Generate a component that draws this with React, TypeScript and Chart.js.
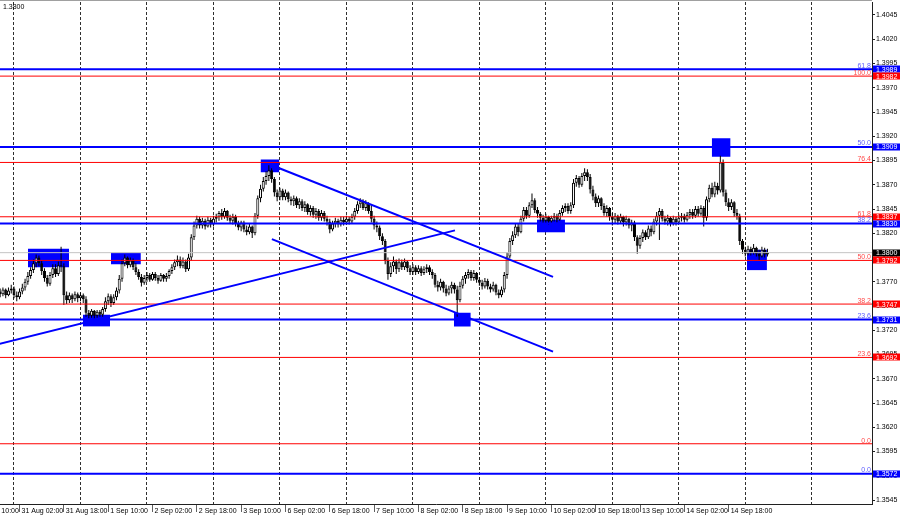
import React, { useEffect, useRef } from "react";
import { Chart, registerables } from "chart.js";

Chart.register(...registerables);

const FONT = "'Liberation Sans', Arial, sans-serif";

// ---------- candle data (H1 bars, bar index 0 = 31 Aug 00:00) ----------
const firstBar = -5;
const firstOpen = 1.376;
const closes = [
  1.3757, 1.3762, 1.3756, 1.3761, 1.3763,
  1.3756, 1.3754, 1.3760, 1.3764, 1.3770, 1.3776, 1.3782, 1.3789, 1.3795, 1.3789,
  1.3781, 1.3774, 1.3768, 1.3777, 1.3784, 1.3778, 1.3787, 1.3786, 1.3756, 1.3751,
  1.3756, 1.3752, 1.3757, 1.3753, 1.3756, 1.3752, 1.3738, 1.3735, 1.3740, 1.3735,
  1.3739, 1.3736, 1.3742, 1.3750, 1.3755, 1.3748, 1.3754, 1.3761, 1.3773, 1.3789,
  1.3795, 1.3787, 1.3792, 1.3785, 1.3780, 1.3775, 1.3769, 1.3774, 1.3777, 1.3772,
  1.3778, 1.3774, 1.3771, 1.3777, 1.3773, 1.3776, 1.3781, 1.3785, 1.3790, 1.3793,
  1.3786, 1.3791, 1.3783, 1.3795, 1.3816, 1.3828, 1.3835, 1.3828, 1.3833, 1.3827,
  1.3834, 1.3829, 1.3835, 1.3837, 1.3841, 1.3837, 1.3843, 1.3836, 1.3833, 1.3837,
  1.3830, 1.3826, 1.3831, 1.3824, 1.3821, 1.3827, 1.3820, 1.3838, 1.3856, 1.3866,
  1.3874, 1.3879, 1.3885, 1.3876, 1.3862, 1.3857, 1.3864, 1.3857, 1.3862, 1.3855,
  1.3853, 1.3856, 1.3849, 1.3853, 1.3846, 1.3850, 1.3842, 1.3846, 1.3839, 1.3843,
  1.3836, 1.3841, 1.3835, 1.3832, 1.3824, 1.3830, 1.3833, 1.3829, 1.3834, 1.3831,
  1.3835, 1.3832, 1.3837, 1.3843, 1.3850, 1.3853, 1.3846, 1.3851, 1.3843, 1.3835,
  1.3828, 1.3826, 1.3817, 1.3812, 1.3792, 1.3778, 1.3786, 1.3791, 1.3783, 1.3790,
  1.3785, 1.3791, 1.3784, 1.3780, 1.3785, 1.3780, 1.3784, 1.3779, 1.3783, 1.3785,
  1.3780, 1.3777, 1.3767, 1.3764, 1.3770, 1.3763, 1.3758, 1.3763, 1.3767, 1.3762,
  1.3751, 1.3766, 1.3773, 1.3777, 1.3780, 1.3774, 1.3779, 1.3772, 1.3769, 1.3765,
  1.3771, 1.3765, 1.3762, 1.3767, 1.3759, 1.3756, 1.3762, 1.3777, 1.3796, 1.3812,
  1.3818, 1.3827, 1.3821, 1.3835, 1.3844, 1.3838, 1.3849, 1.3854, 1.3844, 1.3840,
  1.3836, 1.3833, 1.3837, 1.3832, 1.3836, 1.3838, 1.3834, 1.3841, 1.3846, 1.3848,
  1.3843, 1.3849, 1.3872, 1.3877, 1.3870, 1.3879, 1.3883, 1.3878, 1.3865, 1.3858,
  1.3851, 1.3856, 1.3848, 1.3841, 1.3846, 1.3837, 1.3834, 1.3838, 1.3832, 1.3837,
  1.3831, 1.3835, 1.3828, 1.3831, 1.3816, 1.3807, 1.3815, 1.3821, 1.3816, 1.3825,
  1.3821, 1.3832, 1.3838, 1.3843, 1.3835, 1.3832, 1.3836, 1.3830, 1.3835, 1.3831,
  1.3836, 1.3838, 1.3834, 1.3839, 1.3842, 1.3838, 1.3845, 1.3840, 1.3846, 1.3836,
  1.3855, 1.3867, 1.3860, 1.3869, 1.3864, 1.3893, 1.3862, 1.3852, 1.3847, 1.3852,
  1.3841, 1.3838, 1.3812, 1.3803, 1.3799, 1.3804, 1.3800, 1.3805, 1.3799, 1.3796,
  1.3803, 1.3798, 1.3800,
];
const highs = [
  1.3763, 1.3764, 1.3763, 1.3764, 1.3767,
  1.3765, 1.3760, 1.3763, 1.3768, 1.3773, 1.3780, 1.3785, 1.3793, 1.3798, 1.3797,
  1.3792, 1.3784, 1.3777, 1.3780, 1.3788, 1.3788, 1.3791, 1.3806, 1.3789, 1.3760,
  1.3759, 1.3758, 1.3760, 1.3759, 1.3759, 1.3758, 1.3755, 1.3741, 1.3742, 1.3741,
  1.3741, 1.3741, 1.3744, 1.3754, 1.3758, 1.3757, 1.3757, 1.3764, 1.3777, 1.3793,
  1.3798, 1.3796, 1.3795, 1.3794, 1.3789, 1.3783, 1.3778, 1.3777, 1.3780, 1.3779,
  1.3780, 1.3780, 1.3777, 1.3779, 1.3778, 1.3779, 1.3783, 1.3788, 1.3793, 1.3797,
  1.3796, 1.3795, 1.3793, 1.3799, 1.3819, 1.3832, 1.3838, 1.3837, 1.3836, 1.3835,
  1.3837, 1.3836, 1.3838, 1.3840, 1.3843, 1.3845, 1.3846, 1.3844, 1.3839, 1.3840,
  1.3839, 1.3833, 1.3833, 1.3833, 1.3828, 1.3830, 1.3828, 1.3841, 1.3859, 1.3870,
  1.3878, 1.3884, 1.3890, 1.3887, 1.3878, 1.3865, 1.3867, 1.3866, 1.3865, 1.3863,
  1.3858, 1.3859, 1.3858, 1.3856, 1.3855, 1.3853, 1.3851, 1.3849, 1.3848, 1.3846,
  1.3845, 1.3844, 1.3843, 1.3838, 1.3835, 1.3833, 1.3836, 1.3835, 1.3837, 1.3837,
  1.3838, 1.3837, 1.3840, 1.3846, 1.3853, 1.3856, 1.3855, 1.3854, 1.3852, 1.3850,
  1.3838, 1.3832, 1.3828, 1.3820, 1.3814, 1.3795, 1.3790, 1.3796, 1.3793, 1.3794,
  1.3793, 1.3794, 1.3792, 1.3787, 1.3788, 1.3787, 1.3787, 1.3786, 1.3786, 1.3788,
  1.3787, 1.3783, 1.3779, 1.3771, 1.3773, 1.3771, 1.3767, 1.3766, 1.3770, 1.3769,
  1.3766, 1.3770, 1.3776, 1.3780, 1.3783, 1.3782, 1.3782, 1.3780, 1.3775, 1.3772,
  1.3774, 1.3773, 1.3768, 1.3770, 1.3768, 1.3762, 1.3765, 1.3780, 1.3800, 1.3815,
  1.3822, 1.3830, 1.3830, 1.3838, 1.3847, 1.3847, 1.3852, 1.3861, 1.3856, 1.3847,
  1.3842, 1.3839, 1.3840, 1.3838, 1.3838, 1.3841, 1.3840, 1.3844, 1.3849, 1.3851,
  1.3851, 1.3852, 1.3876, 1.3880, 1.3879, 1.3882, 1.3887, 1.3886, 1.3881, 1.3869,
  1.3861, 1.3859, 1.3857, 1.3851, 1.3849, 1.3847, 1.3841, 1.3841, 1.3839, 1.3840,
  1.3838, 1.3838, 1.3836, 1.3834, 1.3833, 1.3818, 1.3818, 1.3824, 1.3823, 1.3828,
  1.3828, 1.3835, 1.3842, 1.3846, 1.3845, 1.3838, 1.3839, 1.3837, 1.3838, 1.3837,
  1.3839, 1.3841, 1.3840, 1.3842, 1.3845, 1.3845, 1.3848, 1.3848, 1.3849, 1.3848,
  1.3858, 1.3870, 1.3872, 1.3873, 1.3872, 1.3900, 1.3896, 1.3865, 1.3856, 1.3855,
  1.3853, 1.3845, 1.3840, 1.3814, 1.3806, 1.3807, 1.3806, 1.3809, 1.3806, 1.3803,
  1.3806, 1.3805, 1.3804,
];
const lows = [
  1.3754, 1.3755, 1.3753, 1.3755, 1.3758,
  1.3753, 1.3750, 1.3752, 1.3757, 1.3761, 1.3767, 1.3773, 1.3779, 1.3785, 1.3786,
  1.3777, 1.3770, 1.3765, 1.3766, 1.3774, 1.3775, 1.3776, 1.3780, 1.3746, 1.3747,
  1.3748, 1.3748, 1.3750, 1.3749, 1.3750, 1.3748, 1.3734, 1.3732, 1.3733, 1.3732,
  1.3733, 1.3734, 1.3734, 1.3739, 1.3746, 1.3744, 1.3746, 1.3751, 1.3758, 1.3770,
  1.3786, 1.3784, 1.3785, 1.3782, 1.3777, 1.3772, 1.3765, 1.3767, 1.3770, 1.3770,
  1.3771, 1.3771, 1.3768, 1.3770, 1.3770, 1.3770, 1.3773, 1.3778, 1.3782, 1.3786,
  1.3784, 1.3784, 1.3780, 1.3781, 1.3792, 1.3813, 1.3825, 1.3825, 1.3825, 1.3824,
  1.3826, 1.3826, 1.3827, 1.3831, 1.3833, 1.3834, 1.3835, 1.3833, 1.3830, 1.3829,
  1.3827, 1.3823, 1.3822, 1.3821, 1.3818, 1.3819, 1.3815, 1.3818, 1.3835, 1.3852,
  1.3863, 1.3870, 1.3874, 1.3872, 1.3858, 1.3853, 1.3854, 1.3854, 1.3854, 1.3852,
  1.3849, 1.3848, 1.3846, 1.3845, 1.3843, 1.3842, 1.3839, 1.3838, 1.3836, 1.3835,
  1.3833, 1.3833, 1.3832, 1.3828, 1.3820, 1.3822, 1.3826, 1.3826, 1.3827, 1.3828,
  1.3829, 1.3829, 1.3830, 1.3834, 1.3840, 1.3846, 1.3844, 1.3843, 1.3840, 1.3831,
  1.3824, 1.3821, 1.3813, 1.3808, 1.3788, 1.3772, 1.3775, 1.3780, 1.3778, 1.3780,
  1.3782, 1.3782, 1.3780, 1.3777, 1.3777, 1.3777, 1.3778, 1.3776, 1.3777, 1.3779,
  1.3777, 1.3773, 1.3764, 1.3760, 1.3761, 1.3759, 1.3755, 1.3756, 1.3758, 1.3758,
  1.3734, 1.3749, 1.3763, 1.3768, 1.3773, 1.3771, 1.3771, 1.3769, 1.3766, 1.3762,
  1.3763, 1.3762, 1.3759, 1.3760, 1.3756, 1.3753, 1.3754, 1.3759, 1.3773, 1.3794,
  1.3808, 1.3815, 1.3817, 1.3820, 1.3832, 1.3835, 1.3836, 1.3846, 1.3841, 1.3836,
  1.3832, 1.3830, 1.3830, 1.3829, 1.3830, 1.3832, 1.3831, 1.3833, 1.3838, 1.3842,
  1.3840, 1.3840, 1.3846, 1.3868, 1.3867, 1.3868, 1.3874, 1.3874, 1.3861, 1.3854,
  1.3847, 1.3847, 1.3844, 1.3838, 1.3837, 1.3833, 1.3828, 1.3830, 1.3829, 1.3830,
  1.3827, 1.3828, 1.3825, 1.3822, 1.3812, 1.3799, 1.3804, 1.3811, 1.3813, 1.3814,
  1.3817, 1.3819, 1.3828, 1.3813, 1.3832, 1.3829, 1.3828, 1.3827, 1.3828, 1.3828,
  1.3830, 1.3832, 1.3831, 1.3832, 1.3835, 1.3835, 1.3836, 1.3837, 1.3838, 1.3827,
  1.3833, 1.3852, 1.3857, 1.3857, 1.3860, 1.3862, 1.3858, 1.3848, 1.3843, 1.3844,
  1.3837, 1.3834, 1.3808, 1.3799, 1.3796, 1.3797, 1.3797, 1.3798, 1.3796, 1.3792,
  1.3795, 1.3795, 1.3796,
];

// ---------- axes ----------
const dayStartBars = [0, 24, 48, 72, 96, 120, 144, 168, 192, 216, 240, 264, 288];
const timeLabelBars = [-14, 2, 18, 34, 50, 66, 82, 98, 114, 130, 146, 162, 178, 194, 210, 226, 242, 258];
const timeLabels = [
  "30 Aug 10:00", "31 Aug 02:00", "31 Aug 18:00", "1 Sep 10:00", "2 Sep 02:00", "2 Sep 18:00",
  "3 Sep 10:00", "6 Sep 02:00", "6 Sep 18:00", "7 Sep 10:00", "8 Sep 02:00", "8 Sep 18:00",
  "9 Sep 10:00", "10 Sep 02:00", "10 Sep 18:00", "13 Sep 10:00", "14 Sep 02:00", "14 Sep 18:00",
];
const priceTicks = [
  1.3545, 1.357, 1.3595, 1.362, 1.3645, 1.367, 1.3695, 1.372, 1.3745, 1.377, 1.3795,
  1.382, 1.3845, 1.387, 1.3895, 1.392, 1.3945, 1.397, 1.3995, 1.402, 1.4045,
];

// ---------- levels ----------
const redFibValues = [1.3603, 1.3692, 1.3747, 1.3792, 1.3837, 1.3893, 1.3982];
const redFibLabels = ["0.0", "23.6", "38.2", "50.0", "61.8", "76.4", "100.0"];
const blueFibValues = [1.3572, 1.3731, 1.383, 1.3909, 1.3989];
const blueFibLabels = ["0.0", "23.6", "38.2", "50.0", "61.8"];
const currentPrice = 1.38;
const topLeftText = "1.3800";

const tagValues = [1.3989, 1.3982, 1.3909, 1.3837, 1.383, 1.38, 1.3792, 1.3747, 1.3731, 1.3692, 1.3572];
const tagKinds = ["blue", "red", "blue", "red", "blue", "price", "red", "red", "blue", "red", "blue"];

// ---------- rectangles ----------
const boxStartBars = [5.05, 24.9, 35.0, 89.0, 158.8, 188.8, 251.9, 264.6];
const boxEndBars = [19.9, 34.7, 45.8, 95.8, 164.9, 198.9, 258.7, 271.8];
const boxTops = [1.3804, 1.3736, 1.38, 1.3896, 1.3738, 1.3834, 1.3918, 1.3803];
const boxBottoms = [1.3785, 1.3724, 1.3788, 1.3883, 1.3724, 1.3821, 1.3899, 1.3782];

// ---------- trend lines ----------
const supportLineBars = [-5.3, 159.2];
const supportLinePrices = [1.3706, 1.3823];
const channelTopBars = [95.8, 194.6];
const channelTopPrices = [1.3887, 1.3775];
const channelBottomBars = [93.1, 194.6];
const channelBottomPrices = [1.3814, 1.3698];

const X_MIN = -5.054;
const X_MAX = 309.75;
const Y_MIN = 1.35409;
const Y_MAX = 1.40584;

const BLUE = "#0000ff";
const RED = "#ff0000";

const overlayPlugin = {
  id: "overlay",
  afterDatasetsDraw(chart: any) {
    const { ctx, chartArea } = chart;
    const y = chart.scales.y;
    ctx.save();
    ctx.font = `7px ${FONT}`;
    ctx.textAlign = "right";
    ctx.textBaseline = "alphabetic";
    redFibValues.forEach((v, i) => {
      ctx.fillStyle = "#ff4a4a";
      ctx.fillText(redFibLabels[i], chartArea.right - 1, y.getPixelForValue(v) - 1);
    });
    blueFibValues.forEach((v, i) => {
      ctx.fillStyle = "#5c5cff";
      ctx.fillText(blueFibLabels[i], chartArea.right - 1, y.getPixelForValue(v) - 1.5);
    });
    ctx.restore();
  },
  afterDraw(chart: any) {
    const { ctx, chartArea, width } = chart;
    const y = chart.scales.y;
    ctx.save();
    ctx.strokeStyle = "#a0a0a0";
    ctx.lineWidth = 1;
    ctx.beginPath();
    ctx.moveTo(0, 0.5);
    ctx.lineTo(chartArea.right, 0.5);
    ctx.stroke();
    ctx.font = `7px ${FONT}`;
    ctx.textAlign = "left";
    ctx.textBaseline = "middle";
    tagValues.forEach((v, i) => {
      const py = y.getPixelForValue(v);
      const kind = tagKinds[i];
      ctx.fillStyle = kind === "blue" ? BLUE : kind === "red" ? RED : "#000000";
      ctx.fillRect(chartArea.right + 1, Math.round(py) - 3.5, width - chartArea.right - 1, 7);
      ctx.fillStyle = "#ffffff";
      ctx.fillText(v.toFixed(4), chartArea.right + 4, py + 0.5);
    });
    ctx.fillStyle = "#000";
    ctx.textBaseline = "alphabetic";
    ctx.fillText(topLeftText, 3, 9);
    ctx.restore();
  },
};

export default function App() {
  const ref = useRef<HTMLCanvasElement>(null);

  useEffect(() => {
    document.body.style.margin = "0";
    const canvas = ref.current;
    if (!canvas) return;

    const bars = closes.map((_, i) => firstBar + i);
    const opens = closes.map((_, i) => (i === 0 ? firstOpen : closes[i - 1]));
    const bodyData = bars.map((x, i) => ({ x, y: [opens[i], closes[i]] }));
    const wickData = bars.map((x, i) => ({
      x,
      y: [Math.min(lows[i], opens[i], closes[i]), Math.max(highs[i], opens[i], closes[i])],
    }));
    const bodyColors = closes.map((c, i) => (c >= opens[i] ? "#ffffff" : "#000000"));

    const datasets: any[] = [];

    boxStartBars.forEach((x0, i) => {
      datasets.push({
        type: "line",
        data: [
          { x: x0, y: boxTops[i] },
          { x: boxEndBars[i], y: boxTops[i] },
        ],
        fill: { value: boxBottoms[i] },
        backgroundColor: BLUE,
        borderColor: "rgba(0,0,0,0)",
        borderWidth: 0,
        pointRadius: 0,
        order: 10,
        clip: 0,
      });
    });

    datasets.push({
      type: "bar",
      data: wickData,
      backgroundColor: "#000000",
      borderWidth: 0,
      barThickness: 1,
      grouped: false,
      inflateAmount: 0,
      order: 5,
    });
    datasets.push({
      type: "bar",
      data: bodyData,
      backgroundColor: bodyColors,
      borderColor: "#000000",
      borderWidth: 1,
      borderSkipped: false,
      barThickness: 3,
      minBarLength: 1,
      grouped: false,
      inflateAmount: 0,
      order: 4,
    });

    const hline = (v: number, color: string, w: number) => ({
      type: "line",
      data: [
        { x: X_MIN - 2, y: v },
        { x: X_MAX + 2, y: v },
      ],
      borderColor: color,
      borderWidth: w,
      pointRadius: 0,
      fill: false,
      order: 2,
      clip: 0,
    });
    datasets.push(hline(currentPrice, "#c4c4c4", 1));
    redFibValues.forEach((v) => datasets.push(hline(v, RED, 1)));
    blueFibValues.forEach((v) => datasets.push(hline(v, BLUE, 2)));

    const tline = (xs: number[], ys: number[]) => ({
      type: "line",
      data: xs.map((x, i) => ({ x, y: ys[i] })),
      borderColor: BLUE,
      borderWidth: 2,
      pointRadius: 0,
      fill: false,
      order: 1,
      clip: 0,
    });
    datasets.push(tline(supportLineBars, supportLinePrices));
    datasets.push(tline(channelTopBars, channelTopPrices));
    datasets.push(tline(channelBottomBars, channelBottomPrices));

    const isDay = (v: number) => dayStartBars.includes(v);

    const chart = new Chart(canvas, {
      type: "line",
      data: { datasets },
      options: {
        responsive: false,
        animation: false,
        devicePixelRatio: 1,
        events: [],
        layout: { padding: { top: 2, left: 0, right: 0, bottom: 0 } },
        plugins: {
          legend: { display: false },
          tooltip: { enabled: false },
          title: { display: false },
        },
        scales: {
          x: {
            type: "linear",
            min: X_MIN,
            max: X_MAX,
            offset: false,
            bounds: "data",
            afterBuildTicks: (s: any) => {
              const vals = [...dayStartBars, ...timeLabelBars].sort((a, b) => a - b);
              s.ticks = vals.map((v) => ({ value: v }));
            },
            afterFit: (s: any) => {
              s.height = 15;
              s.paddingLeft = 0;
              s.paddingRight = 0;
            },
            ticks: {
              autoSkip: false,
              maxRotation: 0,
              minRotation: 0,
              align: "start",
              labelOffset: 2,
              padding: -5,
              color: "#000000",
              font: { size: 7, family: FONT },
              callback: (value: any) => {
                const k = timeLabelBars.indexOf(Number(value));
                return k >= 0 ? timeLabels[k] : "";
              },
            },
            grid: {
              offset: false,
              drawOnChartArea: true,
              drawTicks: true,
              tickLength: 8,
              lineWidth: 1,
              color: (c: any) => (c.tick && isDay(c.tick.value) ? "#303030" : "rgba(0,0,0,0)"),
              tickColor: (c: any) => (c.tick && !isDay(c.tick.value) ? "#606060" : "rgba(0,0,0,0)"),
            },
            border: { display: true, color: "#202020", width: 1, dash: [3, 2] },
          },
          y: {
            type: "linear",
            position: "right",
            min: Y_MIN,
            max: Y_MAX,
            bounds: "data",
            afterBuildTicks: (s: any) => {
              s.ticks = priceTicks.map((v) => ({ value: v }));
            },
            afterFit: (s: any) => {
              s.width = 28;
              s.paddingTop = 0;
              s.paddingBottom = 0;
            },
            ticks: {
              autoSkip: false,
              padding: 1,
              color: "#000000",
              font: { size: 7, family: FONT },
              callback: (value: any) => Number(value).toFixed(4),
            },
            grid: {
              drawOnChartArea: false,
              drawTicks: true,
              tickLength: 3,
              color: "#202020",
            },
            border: { display: true, color: "#202020", width: 1 },
          },
        },
      } as any,
      plugins: [overlayPlugin],
    } as any);

    return () => chart.destroy();
  }, []);

  return (
    <div style={{ position: "fixed", left: 0, top: 0, width: 900, height: 519, background: "#ffffff" }}>
      <canvas ref={ref} width={900} height={519} style={{ display: "block", width: 900, height: 519 }} />
    </div>
  );
}
